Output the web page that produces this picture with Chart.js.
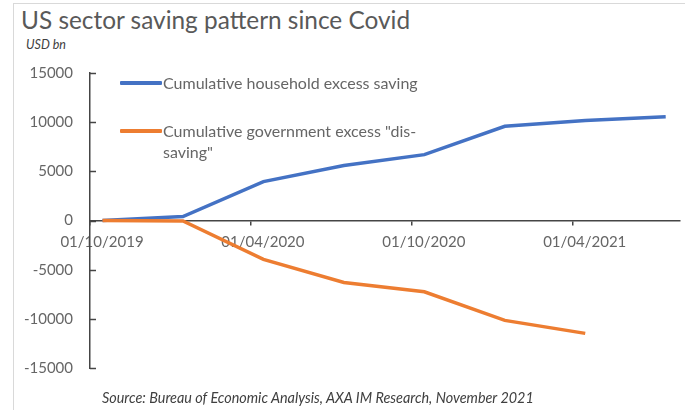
<!DOCTYPE html>
<html>
<head>
<meta charset="utf-8">
<script src="https://cdn.jsdelivr.net/npm/chart.js@4"></script>
<style>
  html, body { margin: 0; padding: 0; background: #fff; }
  #wrap { position: relative; width: 685px; height: 410px; overflow: hidden; font-family: Lato, "Open Sans", sans-serif; }
  #frame { position: absolute; left: 13px; top: 3px; width: 720px; height: 440px; border: 1px solid #d9d9d9; box-sizing: border-box; }
  #title { position: absolute; left: 21px; top: 5px; font-size: 24.4px; line-height: 30px; color: #595959; white-space: nowrap; }
  #unit { position: absolute; left: 26px; top: 38px; font-size: 12.5px; line-height: 14px; font-style: italic; color: #404040; }
  #source { position: absolute; left: 102px; top: 389px; font-size: 14.4px; line-height: 17px; font-style: italic; color: #404040; white-space: nowrap; }
  #legend { position: absolute; left: 120px; top: 72px; }
  .item { display: flex; align-items: flex-start; position: absolute; left: 0; white-space: normal; }
  .swatch { width: 42px; height: 4px; margin-top: 9px; flex: none; border-radius: 1px; }
  .label { max-width: 258px; width: 258px; font-size: 16px; line-height: 21px; color: #666666; margin-left: 1px; }
  canvas { position: absolute; left: 0; top: 0; }
</style>
</head>
<body>
<div id="wrap">
  <div id="frame"></div>
  <div id="title">US sector saving pattern since Covid</div>
  <div id="unit">USD bn</div>
  <canvas id="c" width="685" height="410"></canvas>
  <div id="legend"></div>
  <div id="source">Source: Bureau of Economic Analysis, AXA IM Research, November 2021</div>
</div>
<script>
// ---- data ----
const quarterDates = ['2019-10-15', '2020-01-15', '2020-04-15', '2020-07-15', '2020-10-15', '2021-01-15', '2021-04-15', '2021-07-15'];
const householdExcessSaving = [0, 400, 3960, 5590, 6700, 9580, 10160, 10540];
const governmentExcessDisSaving = [0, -50, -3960, -6300, -7250, -10160, -11480, null];
const seriesNames = ['Cumulative household excess saving', 'Cumulative government excess "dis-saving"'];
const xTickLabels = ['01/10/2019', '01/04/2020', '01/10/2020', '01/04/2021'];
const yTickValues = [-15000, -10000, -5000, 0, 5000, 10000, 15000];
const axisStart = '2019-10-01';
const axisEnd = '2021-09-01';

// months since axis start (date axis)
function monthsSince(d) {
  const [y, m, day] = d.split('-').map(Number);
  const [y0, m0] = axisStart.split('-').map(Number);
  return (y - y0) * 12 + (m - m0) + (day - 1) / 30;
}
const xs = quarterDates.map(monthsSince);
const toPoints = arr => arr.map((v, i) => ({ x: xs[i], y: v }));

const AXIS = '#454545';
const TICKCOL = '#666666';
const TICKFONT = { family: 'Lato', size: 15 };

const yTickMarks = {
  id: 'yTickMarks',
  afterDraw(chart) {
    const y = chart.scales.y, ctx = chart.ctx;
    ctx.save();
    ctx.strokeStyle = AXIS;
    ctx.lineWidth = 1.5;
    y.ticks.forEach(t => {
      const py = Math.round(y.getPixelForValue(t.value)) + 0.5;
      ctx.beginPath();
      ctx.moveTo(chart.chartArea.left, py);
      ctx.lineTo(chart.chartArea.left + 6, py);
      ctx.stroke();
    });
    ctx.restore();
  }
};

const chart = new Chart(document.getElementById('c'), {
  type: 'line',
  data: {
    datasets: [
      { label: seriesNames[0], data: toPoints(householdExcessSaving), borderColor: '#4472C4', backgroundColor: '#4472C4', borderWidth: 3.5, pointRadius: 0, tension: 0, order: 1 },
      { label: seriesNames[1], data: toPoints(governmentExcessDisSaving), borderColor: '#ED7D31', backgroundColor: '#ED7D31', borderWidth: 3.5, pointRadius: 0, tension: 0, order: 0, spanGaps: false }
    ]
  },
  options: {
    responsive: false,
    animation: false,
    devicePixelRatio: 1,
    layout: { padding: { top: 73, right: 5, bottom: 42, left: 0 } },
    plugins: { legend: { display: false }, tooltip: { enabled: false }, title: { display: false } },
    scales: {
      x: {
        type: 'linear',
        position: { y: 0 },
        min: monthsSince(axisStart),
        max: monthsSince(axisEnd) - 1,
        afterBuildTicks: s => { s.ticks = xTickLabels.map((l, i) => ({ value: i * 6 })); },
        ticks: {
          callback: v => xTickLabels[Math.round(v / 6)],
          labelOffset: 12, padding: 9, font: TICKFONT, color: TICKCOL, maxRotation: 0, autoSkip: false
        },
        grid: { display: true, drawOnChartArea: false, drawTicks: true, tickLength: 4, color: AXIS, lineWidth: 1.5 },
        border: { display: true, color: AXIS, width: 1.5 }
      },
      y: {
        type: 'linear',
        min: yTickValues[0],
        max: yTickValues[yTickValues.length - 1],
        afterBuildTicks: s => { s.ticks = yTickValues.map(v => ({ value: v })); },
        afterFit: s => { s.width = 90; },
        ticks: { padding: 17, font: TICKFONT, color: TICKCOL, callback: v => String(v) },
        grid: { display: false, drawTicks: false },
        border: { display: true, color: AXIS, width: 1.5 }
      }
    }
  },
  plugins: [yTickMarks]
});

// HTML legend built from datasets
const legend = document.getElementById('legend');
const legendTops = [0, 48];
chart.data.datasets.forEach((ds, i) => {
  const item = document.createElement('div');
  item.className = 'item';
  item.style.top = legendTops[i] + 'px';
  const sw = document.createElement('span');
  sw.className = 'swatch';
  sw.style.background = ds.borderColor;
  const lab = document.createElement('span');
  lab.className = 'label';
  lab.textContent = ds.label;
  item.appendChild(sw);
  item.appendChild(lab);
  legend.appendChild(item);
});
</script>
</body>
</html>
